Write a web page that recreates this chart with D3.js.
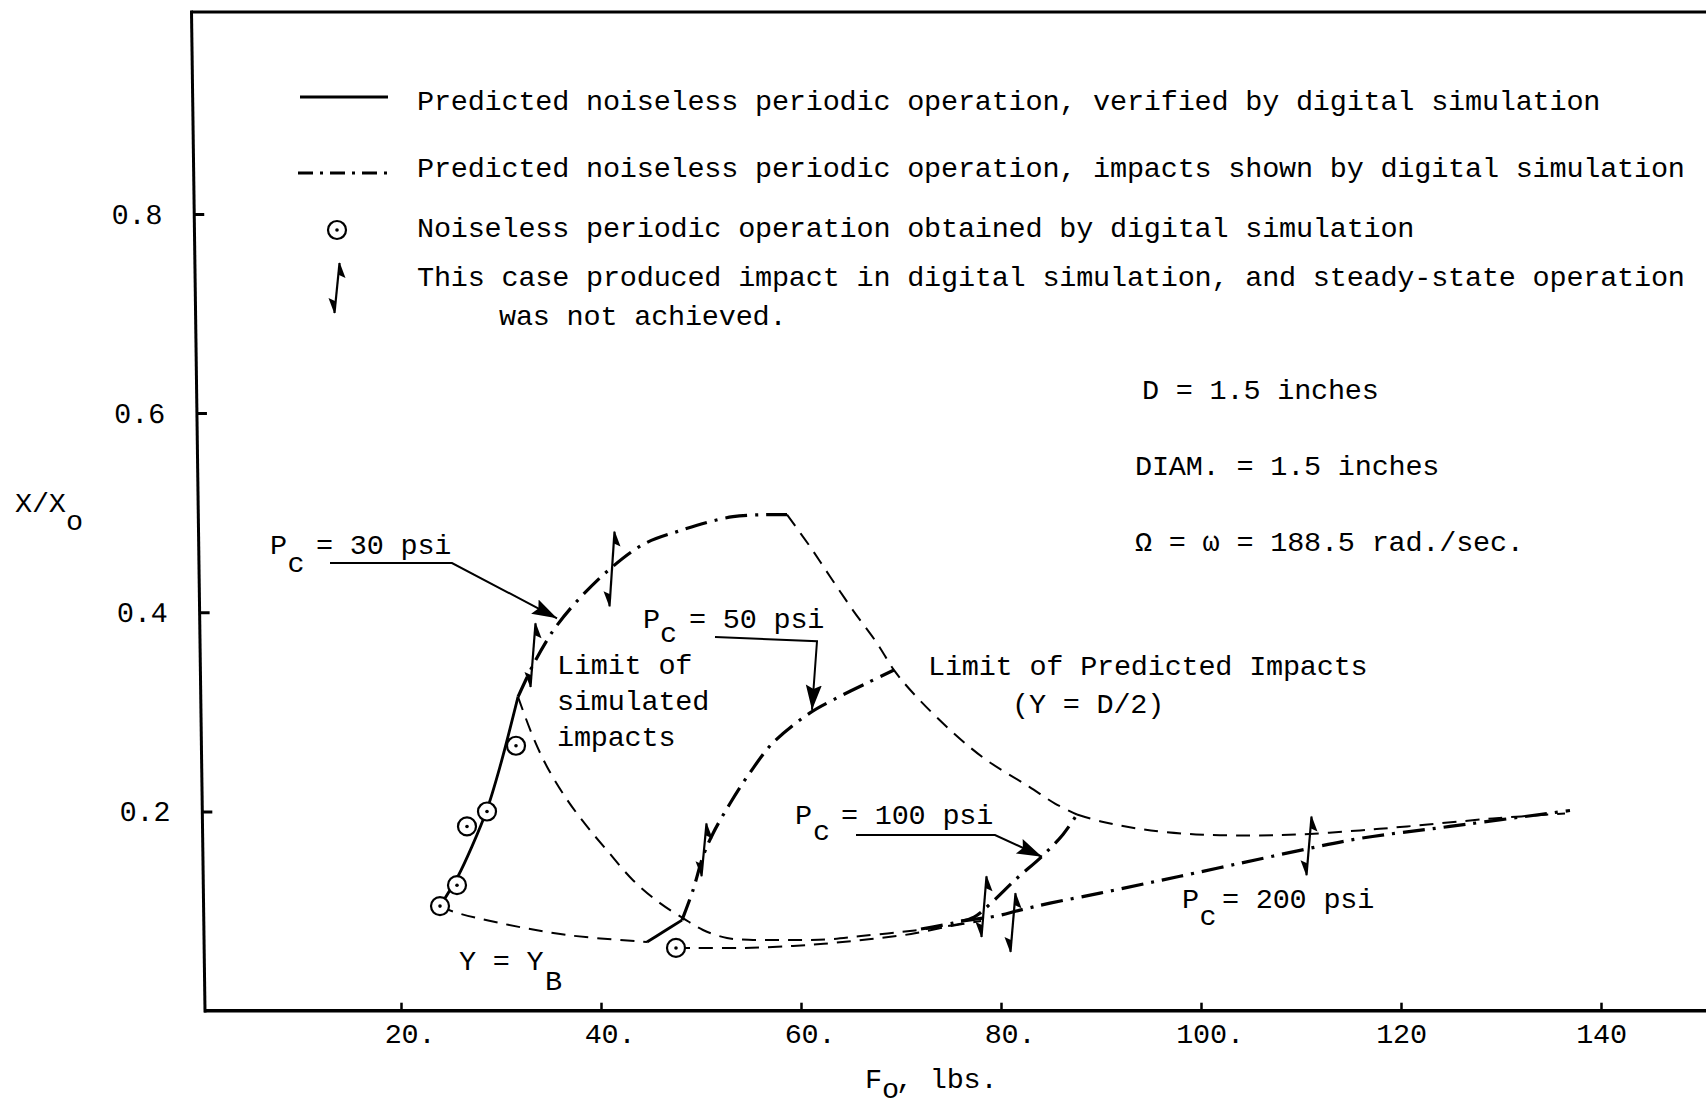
<!DOCTYPE html>
<html>
<head>
<meta charset="utf-8">
<script src="https://cdn.jsdelivr.net/npm/d3@7"></script>
<style>
  html, body { margin: 0; padding: 0; background: #fff; }
  svg { display: block; background: #fff; }
  text {
    font-family: "Liberation Mono", "Courier New", monospace;
    font-size: 28.5px;
    letter-spacing: -0.2px;
    fill: #000;
  }
  .solid   { fill: none; stroke: #000; stroke-width: 2.8; }
  .dashdot { fill: none; stroke: #000; stroke-width: 3.2; stroke-dasharray: 22 8 3 8; }
  .dashed  { fill: none; stroke: #000; stroke-width: 2; stroke-dasharray: 14 9; }
  .arrow   { fill: none; stroke: #000; stroke-width: 2; }
</style>
</head>
<body>
<svg id="chart" width="1706" height="1109"></svg>
<script>
// ---- axis ticks ----
const xTicks = [20, 40, 60, 80, 100, 120, 140];
const xTickLabels = ["20.", "40.", "60.", "80.", "100.", "120", "140"];
const yTicks = [0.2, 0.4, 0.6, 0.8];
const yTickLabels = ["0.2", "0.4", "0.6", "0.8"];

// ---- curves: [F_o (lbs), X/X_o] ----
// Pc = 30 psi: verified part (solid) and impact part (dash-dot)
const pc30Verified = [[23.9,0.105],[25.7,0.135],[27.1,0.165],[28.6,0.202],[29.9,0.245],[31.7,0.315]];
const pc30Impacts  = [[31.7,0.315],[33.1,0.345],[34.6,0.372],[35.6,0.387],[37.4,0.409],[40.6,0.441],
                      [44.2,0.468],[47.6,0.481],[53.2,0.496],[58.6,0.498]];
// Pc = 50 psi
const pc50Verified = [[44.6,0.069],[46.2,0.079],[48.1,0.091]];
const pc50Impacts  = [[48.1,0.091],[49.2,0.121],[50.2,0.155],[51.2,0.178],[52.9,0.208],[54.9,0.239],
                      [57.2,0.269],[60.9,0.299],[63.2,0.312],[66.6,0.329],[69.3,0.342]];
// Pc = 100 psi
const pc100 = [[72.0,0.082],[75.2,0.088],[77.3,0.094],[79.0,0.108],[81.6,0.133],[84.1,0.155],
               [86.2,0.177],[87.6,0.197]];
// Pc = 200 psi
const pc200 = [[76.0,0.090],[79.5,0.095],[81.9,0.101],[84.9,0.108],[89.9,0.118],[94.6,0.128],
               [97.9,0.135],[103.9,0.148],[109.9,0.161],[115.9,0.173],[124.9,0.185],[136.9,0.201]];

// Y = Y_B boundary (dashed)
const yBLeft  = [[23.9,0.105],[25.2,0.0995],[29.9,0.088],[36.6,0.076],[44.6,0.069]];
const yBRight = [[47.5,0.063],[49.2,0.063],[54.2,0.063],[59.2,0.065],[63.2,0.068],[67.0,0.072],
                 [71.0,0.077],[75.0,0.085],[78.0,0.090]];
// Limit of simulated impacts (dashed)
const simLimit = [[31.7,0.315],[33.2,0.275],[34.6,0.245],[36.6,0.212],[38.6,0.185],[40.6,0.161],
                  [43.2,0.131],[45.9,0.108],[48.2,0.093],[50.2,0.081],[52.6,0.073],[55.2,0.071],
                  [57.9,0.071],[60.6,0.071],[63.2,0.072],[66.0,0.075],[70.0,0.079],[74.0,0.084],[77.0,0.089]];
// Limit of predicted impacts, Y = D/2 (dashed)
const predLimitUpper = [[58.6,0.498],[60.9,0.466],[62.9,0.436],[65.2,0.402],[67.6,0.369],[69.3,0.342],
                        [71.2,0.319],[74.9,0.282],[78.5,0.252],[82.8,0.225],[85.4,0.208],[87.6,0.197]];
const predLimitLower = [[87.6,0.197],[90.0,0.190],[94.2,0.182],[99.5,0.177],[105.0,0.176],[110.0,0.177],
                        [115.9,0.181],[120.6,0.185],[129.2,0.193],[136.4,0.198]];

// Noiseless periodic operation found by digital simulation
const simPoints = [[23.9,0.105],[25.6,0.126],[26.6,0.185],[28.6,0.200],[31.5,0.266],[47.5,0.063]];
// Cases with impact, no steady state: [F_o, low X/X_o, high X/X_o]
const impactCases = [[33.2,0.325,0.389],[41.1,0.406,0.481],[50.3,0.135,0.188],
                     [78.3,0.074,0.135],[81.2,0.059,0.118],[110.8,0.136,0.195]];

// ---- scales ----
const x = d3.scaleLinear().domain([0, 150]).range([201, 1701]);
const y = d3.scaleLinear().domain([0, 1]).range([1010.7, 14.7]);

const svg = d3.select("#chart");

svg.append("defs").append("marker")
  .attr("id", "head").attr("markerUnits", "userSpaceOnUse")
  .attr("markerWidth", 28).attr("markerHeight", 18)
  .attr("refX", 25).attr("refY", 8).attr("orient", "auto")
  .append("path").attr("d", "M0,0L25,8L0,16L4,8Z").attr("fill", "#000");

// ---- frame and axes ----
svg.append("line")
  .attr("x1", 191.5).attr("y1", 12).attr("x2", 1706).attr("y2", 12)
  .attr("stroke", "#000").attr("stroke-width", 2.8);

// the left axis leans slightly to the right toward the bottom
const lean = 13.5 / (1010.7 - 12);
const yAxisG = svg.append("g")
  .attr("transform", `translate(${191.5 - lean * 12},0) skewX(${Math.atan(lean) * 180 / Math.PI})`);
yAxisG.call(d3.axisRight(y).tickValues(yTicks).tickSize(10).tickFormat((d, i) => yTickLabels[i]));
yAxisG.select(".domain").remove();
yAxisG.append("line").attr("x1", 0).attr("x2", 0).attr("y1", 10.6).attr("y2", 1012.4)
  .attr("stroke", "#000").attr("stroke-width", 3);
yAxisG.selectAll(".tick line").attr("stroke", "#000").attr("stroke-width", 3);
yAxisG.selectAll(".tick text").attr("x", -32).attr("text-anchor", "end");

const xAxisG = svg.append("g").attr("transform", `translate(0,${y(0)})`);
xAxisG.call(d3.axisBottom(x).tickValues(xTicks).tickSize(-8).tickSizeOuter(0).tickPadding(11.7)
  .tickFormat((d, i) => xTickLabels[i]));
xAxisG.select(".domain").attr("d", "M204,0H1706").attr("stroke", "#000").attr("stroke-width", 3.5);
xAxisG.selectAll(".tick line").attr("stroke", "#000").attr("stroke-width", 2.5);
// numbers sit centred on the tick; a trailing period hangs to the right
xAxisG.selectAll(".tick text").attr("dx", (d, i) => xTickLabels[i].endsWith(".") ? 8.5 : 0);

// axis titles
svg.append("text").attr("x", 15).attr("y", 512).text("X/X");
svg.append("text").attr("x", 66).attr("y", 530).text("o");
svg.append("text").attr("x", 865).attr("y", 1088).text("F");
svg.append("text").attr("x", 882).attr("y", 1098).text("o");
svg.append("text").attr("x", 896).attr("y", 1088).text(", lbs.");

// ---- curves ----
const line = d3.line().x(d => x(d[0])).y(d => y(d[1])).curve(d3.curveCatmullRom.alpha(0.5));
function curve(data, cls) {
  svg.append("path").datum(data).attr("class", cls).attr("d", line);
}
curve(yBLeft, "dashed");
curve(yBRight, "dashed");
curve(simLimit, "dashed");
curve(predLimitUpper, "dashed");
curve(predLimitLower, "dashed");
curve(pc30Verified, "solid");
curve(pc30Impacts, "dashdot");
curve(pc50Verified, "solid");
curve(pc50Impacts, "dashdot");
curve(pc100, "dashdot");
curve(pc200, "dashdot");

// ---- symbols ----
function simCircle(g) {
  g.append("circle").attr("r", 9).attr("fill", "#fff").attr("stroke", "#000").attr("stroke-width", 2.2);
  g.append("circle").attr("r", 1.8).attr("fill", "#000");
}
function impactMark(g, px, yTop, yBot) {
  const xt = px + 2.5, xb = px - 2.5;
  g.append("path").attr("d", `M${xt},${yTop}L${xb},${yBot}`)
    .attr("stroke", "#000").attr("stroke-width", 2.2).attr("fill", "none");
  g.append("path").attr("d", `M${xt},${yTop - 1}L${xt + 6},${yTop + 15}L${xt - 0.5},${yTop + 12}Z`).attr("fill", "#000");
  g.append("path").attr("d", `M${xb},${yBot + 1}L${xb - 6},${yBot - 15}L${xb + 0.5},${yBot - 12}Z`).attr("fill", "#000");
}

svg.selectAll("g.sim").data(simPoints).join("g").attr("class", "sim")
  .attr("transform", d => `translate(${x(d[0])},${y(d[1])})`)
  .each(function () { simCircle(d3.select(this)); });

const impactG = svg.append("g");
impactCases.forEach(d => impactMark(impactG, x(d[0]), y(d[2]), y(d[1])));

// ---- annotations ----
function label(xv, yv, str) {
  return svg.append("text").attr("x", x(xv)).attr("y", y(yv)).text(str);
}
function pointer(pts) {
  svg.append("path").attr("class", "arrow")
    .attr("d", d3.line().x(d => x(d[0])).y(d => y(d[1]))(pts))
    .attr("marker-end", "url(#head)");
}

label(6.9, 0.4585, "P");  label(8.65, 0.4405, "c");  label(11.5, 0.4585, "= 30 psi");
pointer([[12.9, 0.4495], [25.1, 0.4495], [35.6, 0.394]]);

label(44.2, 0.3842, "P"); label(45.9, 0.3705, "c");  label(48.8, 0.3842, "= 50 psi");
pointer([[51.4, 0.3752], [61.6, 0.3709], [61.1, 0.302]]);

label(59.4, 0.1875, "P"); label(61.2, 0.1715, "c");  label(64.0, 0.1875, "= 100 psi");
pointer([[65.5, 0.1764], [79.4, 0.1764], [84.1, 0.1546]]);

label(98.1, 0.1031, "P"); label(99.85, 0.086, "c");  label(102.1, 0.1031, "= 200 psi");

label(25.8, 0.0409, "Y = Y"); label(34.4, 0.0208, "B");

label(35.6, 0.3381, "Limit of");
label(35.6, 0.3020, "simulated");
label(35.6, 0.2657, "impacts");

label(72.7, 0.3371, "Limit of Predicted Impacts");
label(81.1, 0.2989, "(Y = D/2)");

// ---- parameters ----
svg.append("text").attr("x", 1142).attr("y", 399).text("D = 1.5 inches");
svg.append("text").attr("x", 1135).attr("y", 475).text("DIAM. = 1.5 inches");
svg.append("text").attr("x", 1135).attr("y", 551).text("\u03A9 = \u03C9 = 188.5 rad./sec.");

// ---- legend ----
const leg = svg.append("g");
leg.append("line").attr("x1", 300).attr("x2", 388).attr("y1", 97).attr("y2", 97)
  .attr("stroke", "#000").attr("stroke-width", 2.8);
leg.append("path").attr("d", "M298,173H394").attr("class", "dashdot").style("stroke-dasharray", "15 7 3 7");
const legCircle = leg.append("g").attr("transform", "translate(337,230)");
simCircle(legCircle);
impactMark(leg, 337, 263, 313);

leg.append("text").attr("x", 417).attr("y", 110)
  .text("Predicted noiseless periodic operation, verified by digital simulation");
leg.append("text").attr("x", 417).attr("y", 177)
  .text("Predicted noiseless periodic operation, impacts shown by digital simulation");
leg.append("text").attr("x", 417).attr("y", 237)
  .text("Noiseless periodic operation obtained by digital simulation");
leg.append("text").attr("x", 417).attr("y", 286)
  .text("This case produced impact in digital simulation, and steady-state operation");
leg.append("text").attr("x", 499).attr("y", 325).text("was not achieved.");
</script>
</body>
</html>
